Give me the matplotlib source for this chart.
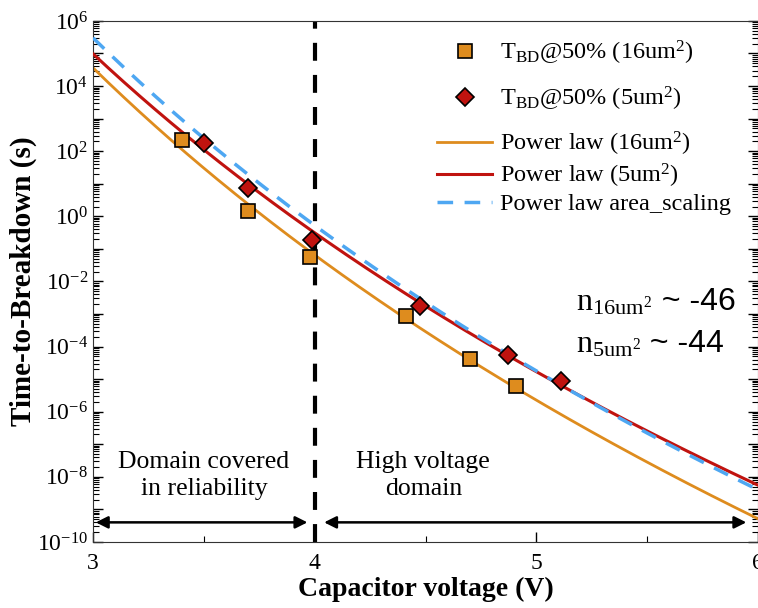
import numpy as np
import matplotlib
matplotlib.use("Agg")
import matplotlib.pyplot as plt
from matplotlib.ticker import LogLocator, FuncFormatter, MultipleLocator, NullFormatter

plt.rcParams['font.family'] = ['Liberation Serif', 'DejaVu Serif']
plt.rcParams['mathtext.fontset'] = 'custom'
plt.rcParams['mathtext.rm'] = 'Liberation Serif'
plt.rcParams['mathtext.it'] = 'Liberation Serif:italic'
plt.rcParams['mathtext.bf'] = 'Liberation Serif:bold'

# data
v16 = [3.40, 3.70, 3.98, 4.41, 4.70, 4.91]
t16 = [224, 1.45, 0.056, 8.7e-4, 4.1e-5, 6.2e-6]
v5 = [3.50, 3.70, 3.99, 4.476, 4.87, 5.11]
t5 = [178, 7.4, 0.19, 1.8e-3, 5.5e-5, 8.9e-6]

# power law fits: log10(t) = a + n*log10(V/3)
a16, n16 = 4.56, -46.0
a5, n5 = 4.99, -44.0
a_as, n_as = 5.48, -46.1

vfit = np.linspace(3.0, 6.0, 300)
fit16 = 10 ** (a16 + n16 * np.log10(vfit / 3))
fit5 = 10 ** (a5 + n5 * np.log10(vfit / 3))
fit_as = 10 ** (a_as + n_as * np.log10(vfit / 3))

c_or = '#DE8C1E'
c_red = '#C0130F'
c_blue = '#4EA7F2'

fig = plt.figure(figsize=(7.58, 6.08), dpi=100)
ax = fig.add_axes([0.1227, 0.1086, 0.8773, 0.857])

l16, = ax.plot(vfit, fit16, color=c_or, lw=2.0, label='Power law (16um$^2$)', zorder=2)
l5, = ax.plot(vfit, fit5, color=c_red, lw=2.2, label='Power law (5um$^2$)', zorder=3)
las, = ax.plot(vfit, fit_as, color=c_blue, lw=2.5, ls=(0, (4.5, 3.3)),
               label='Power law area_scaling', zorder=4)
m16, = ax.plot(v16, t16, ls='none', marker='s', ms=9.5, mfc=c_or, mec='black', mew=1.2,
               label='T$_{\\rm BD}$@50% (16um$^2$)', zorder=5)
m5, = ax.plot(v5, t5, ls='none', marker='D', ms=9, mfc=c_red, mec='black', mew=1.2,
              label='T$_{\\rm BD}$@50% (5um$^2$)', zorder=6)

ax.axvline(4.0, color='black', lw=3.0, ls=(0, (4.3, 3.4)), zorder=1)

ax.set_yscale('log')
ax.set_xlim(3, 6)
ax.set_ylim(1e-10, 1e6)

ax.yaxis.set_major_locator(LogLocator(base=10, numticks=30))
ax.yaxis.set_minor_locator(LogLocator(base=10, subs=np.arange(2, 10), numticks=200))
def yfmt(v, pos):
    e = int(round(np.log10(v)))
    if e % 2 == 0:
        return '$10^{%d}$' % e
    return ''
ax.yaxis.set_major_formatter(FuncFormatter(yfmt))
ax.yaxis.set_minor_formatter(NullFormatter())
ax.xaxis.set_major_locator(MultipleLocator(1))
ax.xaxis.set_minor_locator(MultipleLocator(0.5))

ax.tick_params(which='both', direction='in', top=False, right=True, labelsize=17)
ax.tick_params(which='major', length=7, width=1)
ax.tick_params(which='minor', length=4, width=0.8)
ax.tick_params(axis='x', pad=8)
for s in ax.spines.values():
    s.set_color('#333333')

ax.set_xlabel('Capacitor voltage (V)', fontsize=20, fontweight='bold', labelpad=2)
ax.set_ylabel('Time-to-Breakdown (s)', fontsize=21, fontweight='bold')
ax.yaxis.set_label_coords(-0.084, 0.5)

# annotations
arrow_y = 4e-10
ax.annotate('', xy=(3.0, arrow_y), xytext=(3.98, arrow_y),
            arrowprops=dict(arrowstyle='<|-|>', color='black', lw=1.8, mutation_scale=18))
ax.annotate('', xy=(4.03, arrow_y), xytext=(5.96, arrow_y),
            arrowprops=dict(arrowstyle='<|-|>', color='black', lw=1.8, mutation_scale=18))
ax.text(3.5, 10 ** -7.95, 'Domain covered\nin reliability', ha='center', va='center',
        fontsize=18.5, linespacing=1.3)
ax.text(4.49, 10 ** -7.95, 'High voltage\ndomain', ha='center', va='center',
        fontsize=18.5, linespacing=1.3)

t1 = ax.text(5.18, 10 ** -2.88, r'n$_{\mathregular{16um^2}}$', ha='left', va='baseline', fontsize=23)
ax.annotate(' ~ -46', xy=(1, 0), xycoords=t1, ha='left', va='bottom', fontsize=23,
            family='Liberation Sans')
t2 = ax.text(5.18, 10 ** -4.17, r'n$_{\mathregular{5um^2}}$', ha='left', va='baseline', fontsize=23)
ax.annotate(' ~ -44', xy=(1, 0), xycoords=t2, ha='left', va='bottom', fontsize=23,
            family='Liberation Sans')

leg1 = ax.legend([m16, m5], [m16.get_label(), m5.get_label()], loc='upper left',
                 bbox_to_anchor=(0.502, 0.985), frameon=False, fontsize=17.5, handlelength=2.3,
                 handletextpad=0.3, labelspacing=0.75, borderaxespad=0.0)
ax.add_artist(leg1)
ax.legend([l16, l5, las], [l16.get_label(), l5.get_label(), las.get_label()], loc='upper left',
          bbox_to_anchor=(0.502, 0.81), frameon=False, fontsize=17.5, handlelength=2.3,
          handletextpad=0.3, labelspacing=0.15, borderaxespad=0.0)

fig.savefig('out.png', dpi=100)
